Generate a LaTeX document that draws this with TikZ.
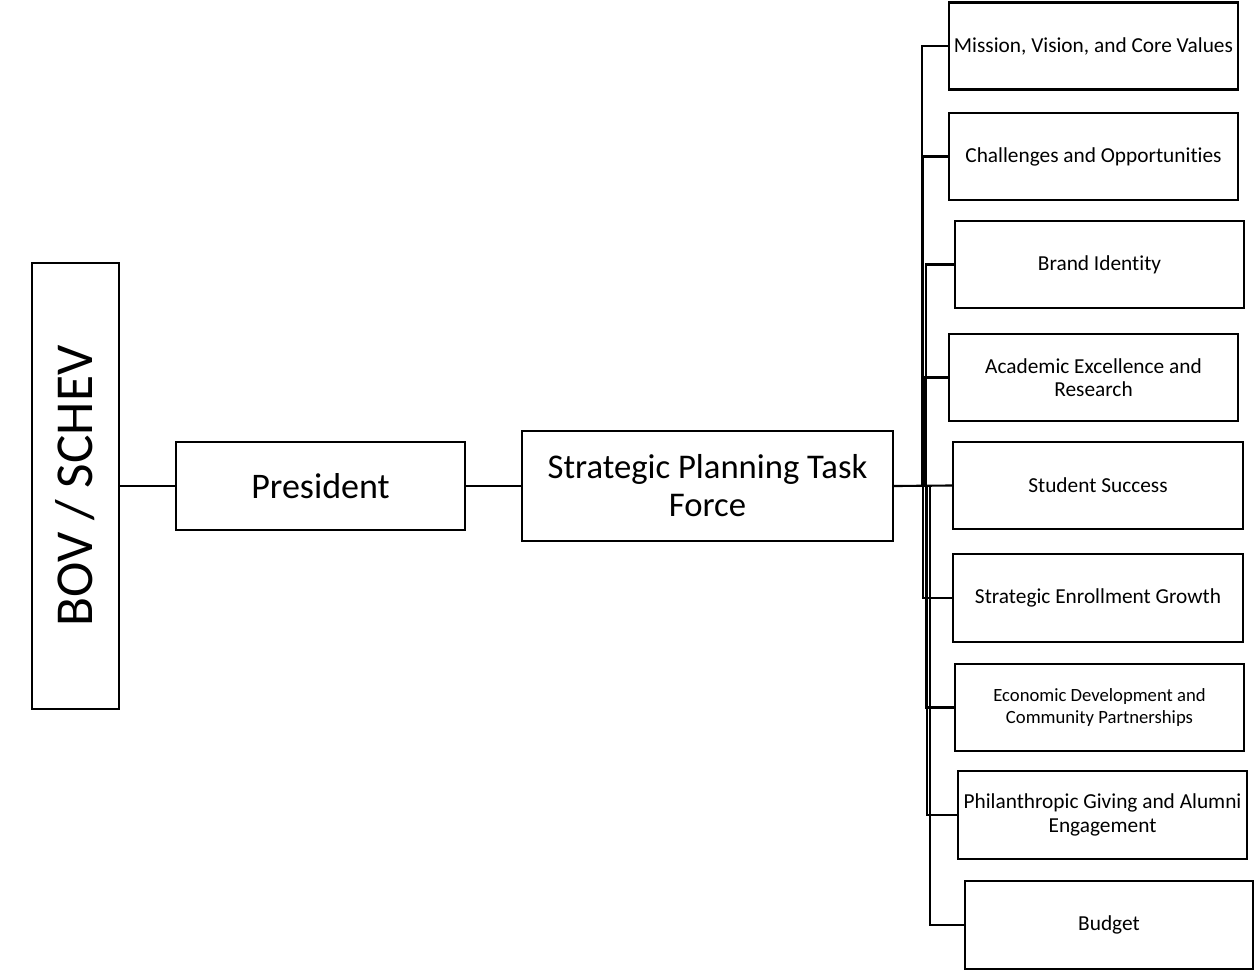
\documentclass[tikz,border=0pt]{standalone}
\usepackage{fontspec}
\setmainfont{Carlito}[Ligatures={NoCommon}]
\begin{document}
\begin{tikzpicture}[x=0.75pt,y=-0.75pt,
  big/.style={draw=black, line width=1.3pt, inner sep=0pt, align=center},
  sub/.style={draw=black, line width=1.6pt, inner sep=0pt, align=center,
    minimum width=216.75pt, minimum height=65.25pt, font=\fontsize{16}{17.5}\selectfont},
  conn/.style={draw=black, line width=1.6pt}]
\useasboundingbox (0,0) rectangle (1254,972);

\node[big, minimum width=65.25pt, minimum height=334.5pt] (bov) at (75.5,486)
  {\rotatebox{90}{\fontsize{40}{42}\selectfont BOV / SCHEV}};
\node[big, minimum width=216.75pt, minimum height=66pt,
  font=\fontsize{27}{29}\selectfont] (pres) at (320.5,486) {President};
\node[big, minimum width=278.25pt, minimum height=82.5pt,
  font=\fontsize{26}{28.5}\selectfont] (tf) at (707.5,486) {Strategic Planning Task\\Force};

\node[sub] (mis) at (1093.5,46) {Mission, Vision, and Core Values};
\node[sub] (cha) at (1093.5,156.5) {Challenges and Opportunities};
\node[sub] (bra) at (1099.5,264.5) {Brand Identity};
\node[sub] (aca) at (1093.5,377.5) {Academic Excellence and\\Research};
\node[sub, minimum width=217.5pt] (stu) at (1098,485.5) {Student Success};
\node[sub, minimum width=217.5pt, minimum height=66pt] (enr) at (1098,598) {Strategic Enrollment Growth};
\node[sub, font=\fontsize{14}{16.5}\selectfont] (eco) at (1099.5,707.5) {Economic Development and\\Community Partnerships};
\node[sub, minimum height=66pt] (phi) at (1102.5,815) {Philanthropic Giving and Alumni\\Engagement};
\node[sub, minimum width=216pt, minimum height=66pt] (bud) at (1109,925) {Budget};

\draw[conn] (bov) -- (pres);
\draw[conn] (pres) -- (tf);
\draw[conn] (tf.east) -- ([xshift=21pt]tf.east) |- (mis.west);
\draw[conn] (tf.east) -- ([xshift=21.75pt]tf.east) |- (cha.west);
\draw[conn] (tf.east) -- ([xshift=24pt]tf.east) |- (bra.west);
\draw[conn] (tf.east) -- ([xshift=22.5pt]tf.east) |- (aca.west);
\draw[conn] (tf.east) -- (stu.west);
\draw[conn] (tf.east) -- ([xshift=21.75pt]tf.east) |- (enr.west);
\draw[conn] (tf.east) -- ([xshift=24pt]tf.east) |- (eco.west);
\draw[conn] (tf.east) -- ([xshift=24.75pt]tf.east) |- (phi.west);
\draw[conn] (tf.east) -- ([xshift=27pt]tf.east) |- (bud.west);
\end{tikzpicture}
\end{document}
